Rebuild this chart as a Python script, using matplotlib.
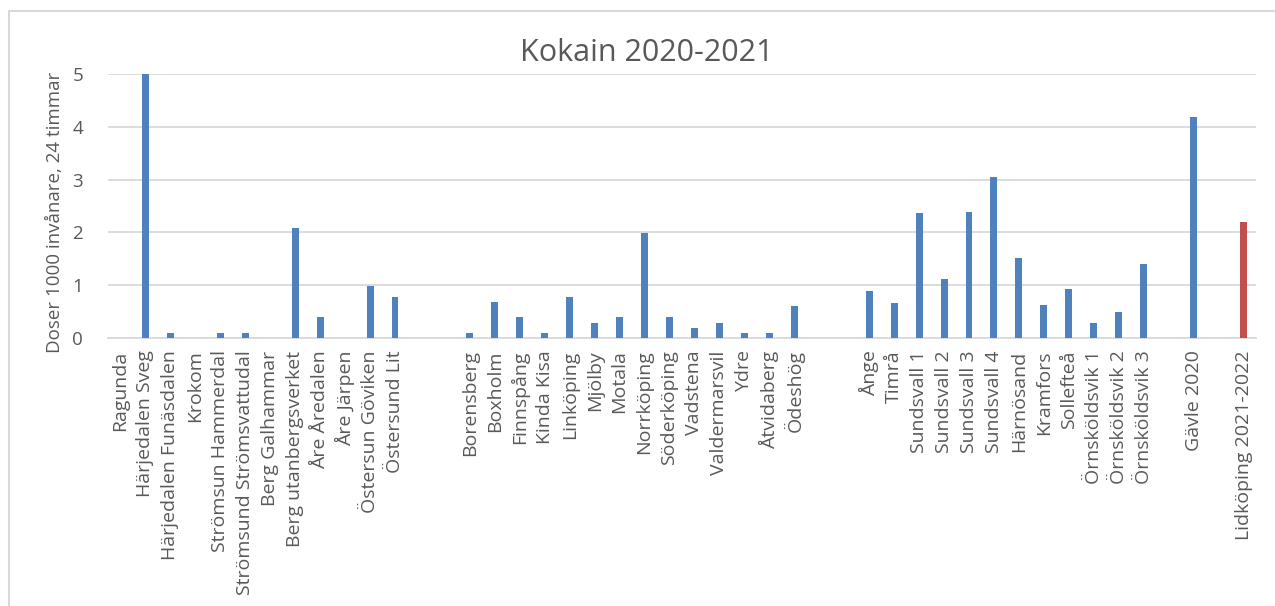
import numpy as np
import matplotlib.pyplot as plt
from matplotlib.lines import Line2D

plt.rcParams['font.family'] = ['Open Sans', 'DejaVu Sans']

# kommuner / reningsverk, tomma strängar ger luft mellan grupperna
platser = ["Ragunda", "Härjedalen Sveg", "Härjedalen Funäsdalen", "Krokom",
           "Strömsun Hammerdal", "Strömsund Strömsvattudal", "Berg Galhammar",
           "Berg utanbergsverket", "Åre Åredalen", "Åre Järpen",
           "Östersun Göviken", "Östersund Lit",
           "", "",
           "Borensberg", "Boxholm", "Finnspång", "Kinda Kisa", "Linköping",
           "Mjölby", "Motala", "Norrköping", "Söderköping", "Vadstena",
           "Valdermarsvil", "Ydre", "Åtvidaberg", "Ödeshög",
           "", "",
           "Ånge", "Timrå", "Sundsvall 1", "Sundsvall 2", "Sundsvall 3",
           "Sundsvall 4", "Härnösand", "Kramfors", "Sollefteå",
           "Örnsköldsvik 1", "Örnsköldsvik 2", "Örnsköldsvik 3",
           "", "Gävle 2020", "", "Lidköping 2021-2022"]

# doser per 1000 invånare och dygn
doser = [0.0, 5.0, 0.1, 0.0, 0.1, 0.1, 0.0, 2.09, 0.39, 0.0, 0.99, 0.78,
         0, 0,
         0.1, 0.69, 0.39, 0.1, 0.78, 0.28, 0.39, 1.99, 0.39, 0.18, 0.28,
         0.1, 0.1, 0.6,
         0, 0,
         0.89, 0.66, 2.36, 1.12, 2.39, 3.05, 1.51, 0.62, 0.93, 0.28, 0.5,
         1.41,
         0, 4.19, 0, 2.19]

blue = "#4F81BD"
red = "#C0504D"
text_grey = "#595959"
grid_grey = "#D9D9D9"

colors = [blue] * len(doser)
colors[-1] = red

fig = plt.figure(figsize=(12.75, 6.06), dpi=100)
ax = fig.add_axes([108 / 1275, 1 - 338 / 606, (1256 - 108) / 1275, (338 - 74) / 606])

x = np.arange(len(platser))
ax.bar(x, doser, width=0.28, color=colors, zorder=3)

ax.set_xlim(-0.5, len(platser) - 0.5)
ax.set_ylim(0, 5)
ax.set_yticks(range(0, 6))
ax.yaxis.grid(True, color=grid_grey, linewidth=1.3, zorder=0)
ax.set_xticks(x)
ax.set_xticklabels(platser, rotation=90, ha="center", va="top",
                   fontsize=14, color=text_grey)
ax.tick_params(axis="x", length=0, pad=9)
ax.tick_params(axis="y", length=0, pad=18, labelsize=13.5, labelcolor=text_grey)
for side in ["top", "right", "left"]:
    ax.spines[side].set_visible(False)
ax.spines["bottom"].set_color(grid_grey)
ax.spines["bottom"].set_linewidth(1.3)

fig.text(55 / 1275, 1 - 212 / 606, "Doser 1000 invånare, 24 timmar",
         rotation=90, ha="center", va="center", fontsize=13.5, color=text_grey)
fig.text(647 / 1275, 1 - 53 / 606, "Kokain 2020-2021",
         ha="center", va="center", fontsize=22, color=text_grey)

# ram runt diagramytan
fig.add_artist(Line2D([9 / 1275, 9 / 1275, 1.0], [0.0, 1 - 11 / 606, 1 - 11 / 606],
                      color=grid_grey, linewidth=1.5))

fig.savefig("out.png", dpi=100)
